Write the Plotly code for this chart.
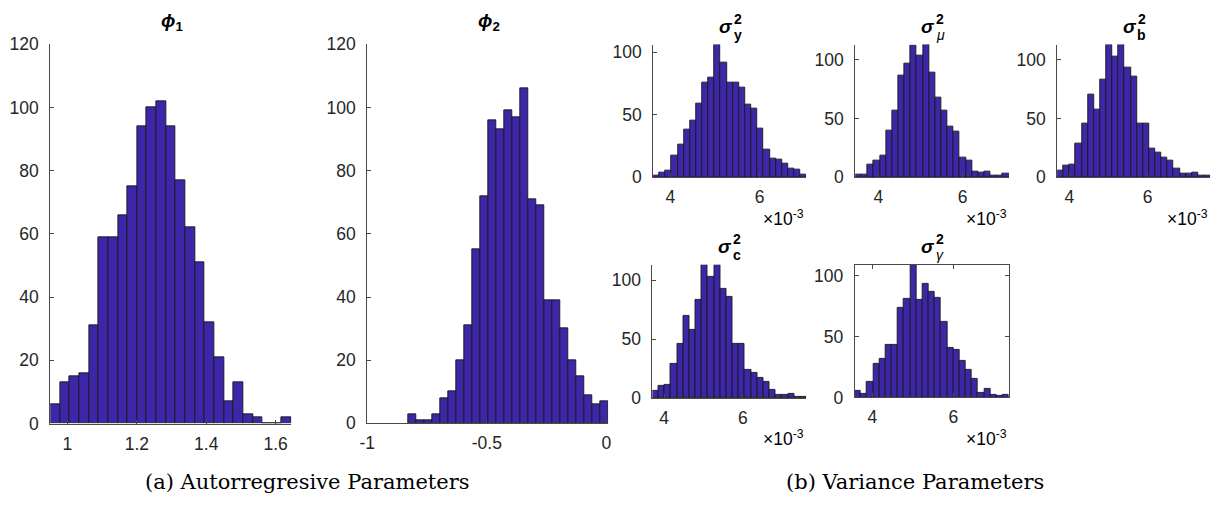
import numpy as np
import plotly.graph_objects as go

# ---- histogram data (counts per bin, first/last bin edge) ----
phi1_counts = [6, 13, 15, 16, 31, 59, 59, 66, 75, 94, 100, 102, 94, 77, 62,
               51, 32, 21, 7, 13, 3, 2, 0, 0, 2]
phi1_edges = (0.9506, 1.6457)

phi2_counts = [3, 1, 1, 3, 8, 10, 20, 31, 55, 72, 96, 93, 99, 97, 106,
               71, 69, 39, 39, 30, 20, 15, 9, 6, 7]
phi2_edges = (-0.829, 0.0077)

sig_y_counts = [1, 4, 5, 17, 26, 38, 45, 59, 76, 80, 106, 92, 76, 76, 72,
                58, 55, 39, 22, 15, 14, 11, 7, 6, 2]
sig_y_edges = (3.615e-3, 7.053e-3)

sig_mu_counts = [2, 2, 11, 14, 18, 40, 57, 87, 97, 112, 104, 113, 89, 68, 57,
                 43, 39, 17, 14, 5, 4, 5, 1, 1, 3]
sig_mu_edges = (3.45e-3, 7.10e-3)

sig_b_counts = [6, 10, 11, 29, 46, 70, 58, 83, 113, 103, 113, 93, 86, 46, 46,
                24, 21, 17, 14, 7, 3, 3, 4, 1, 1]
sig_b_edges = (3.69e-3, 7.60e-3)

sig_c_counts = [6, 10, 11, 29, 46, 70, 58, 83, 113, 103, 113, 93, 86, 46, 46,
                24, 21, 17, 14, 7, 3, 3, 4, 1, 1]
sig_c_edges = (3.705e-3, 7.62e-3)

sig_g_counts = [5, 3, 13, 28, 32, 43, 43, 74, 81, 109, 80, 93, 87, 82, 62,
                41, 39, 30, 23, 15, 4, 7, 2, 1, 2]
sig_g_edges = (3.56e-3, 7.37e-3)

phi_xticks = [[1, 1.2, 1.4, 1.6], [-1, -0.5, 0]]
phi_yticks = [0, 20, 40, 60, 80, 100, 120]
sig_xticks = [0.004, 0.006]
sig_xtick_text = ["4", "6"]
sig_yticks = [0, 50, 100]

# ---- page geometry (pixels) ----
W, H = 1225, 508
BAR_FILL = "#3e26a8"
BAR_EDGE = "#1a1a1a"
AXIS_COL = "#4a4a4a"
TEXT_COL = "#262626"
SANS = "Liberation Sans, Arial, sans-serif"
TICK_SIZE = 17.5

fig = go.Figure()


def px_x(p):
    return p / W


def px_y(p):
    return 1 - p / H


panels = []
panels.append(dict(counts=phi1_counts, edges=phi1_edges, xpx=(42.7, 286.0),
                   ypx=(430.5, 35.7), xr=phi1_edges, xt=phi_xticks[0],
                   xtt=None, yt=phi_yticks, ytop=120, box=False))
panels.append(dict(counts=phi2_counts, edges=phi2_edges, xpx=(362.5, 605.7),
                   ypx=(430.3, 35.7), xr=(-1, phi2_edges[1]), xt=phi_xticks[1],
                   xtt=["-1", "-0.5", "0"], yt=phi_yticks, ytop=120, box=False))
small = [
    (sig_y_counts, sig_y_edges, (651.0, 805.7), (174.0, 36.0), False),
    (sig_mu_counts, sig_mu_edges, (855.0, 1010.0), (174.0, 36.0), False),
    (sig_b_counts, sig_b_edges, (1058.7, 1213.3), (174.0, 36.0), False),
    (sig_c_counts, sig_c_edges, (650.3, 805.7), (404.0, 265.3), False),
    (sig_g_counts, sig_g_edges, (854.3, 1010.0), (403.3, 265.3), True),
]
for c, e, xp, yp, box in small:
    panels.append(dict(counts=c, edges=e, xpx=xp, ypx=yp, xr=e, xt=sig_xticks,
                       xtt=sig_xtick_text, yt=sig_yticks, ytop=max(c), box=box))

for i, p in enumerate(panels, start=1):
    n = len(p["counts"])
    edges = np.linspace(p["edges"][0], p["edges"][1], n + 1)
    centers = (edges[:-1] + edges[1:]) / 2
    width = edges[1] - edges[0]
    xa = "x" if i == 1 else f"x{i}"
    ya = "y" if i == 1 else f"y{i}"
    fig.add_trace(go.Bar(
        x=centers, y=p["counts"], width=width, xaxis=xa, yaxis=ya,
        marker=dict(color=BAR_FILL, line=dict(color=BAR_EDGE, width=0.9)),
        showlegend=False, hoverinfo="skip"))
    mirror = "ticks" if p["box"] else False
    xkey = "xaxis" if i == 1 else f"xaxis{i}"
    ykey = "yaxis" if i == 1 else f"yaxis{i}"
    xaxis = dict(domain=[px_x(p["xpx"][0]), px_x(p["xpx"][1])],
                 range=list(p["xr"]), anchor=ya, showgrid=False,
                 zeroline=False, showline=True, linecolor=AXIS_COL,
                 linewidth=1, ticks="inside", ticklen=4, tickcolor=AXIS_COL,
                 tickvals=p["xt"], mirror=mirror,
                 tickfont=dict(family=SANS, size=TICK_SIZE, color=TEXT_COL),
                 ticklabelstandoff=4)
    if p["xtt"] is not None:
        xaxis["ticktext"] = p["xtt"]
    yaxis = dict(domain=[px_y(p["ypx"][0]), px_y(p["ypx"][1])],
                 range=[0, p["ytop"]], anchor=xa, showgrid=False,
                 zeroline=False, showline=True, linecolor=AXIS_COL,
                 linewidth=1, ticks="inside", ticklen=4, tickcolor=AXIS_COL,
                 tickvals=p["yt"], mirror=mirror,
                 tickfont=dict(family=SANS, size=TICK_SIZE, color=TEXT_COL),
                 ticklabelstandoff=7)
    fig.update_layout({xkey: xaxis, ykey: yaxis})

annotations = []


def add_text(x, y, text, size, family=SANS, xanchor="center", yanchor="middle"):
    annotations.append(dict(x=px_x(x), y=px_y(y), xref="paper", yref="paper",
                            text=text, showarrow=False, xanchor=xanchor,
                            yanchor=yanchor,
                            font=dict(family=family, size=size, color="#000000")))


# phi titles
add_text(165, 13, "<b><i>ϕ</i><sub>1</sub></b>", 19)
add_text(485, 13, "<b><i>ϕ</i><sub>2</sub></b>", 19)

# sigma titles: base glyph, superscript 2 and subscript stacked
sigma_titles = [((651.0 + 805.7) / 2, 19, "y"), ((855 + 1010) / 2, 19, "μ"),
                ((1058.7 + 1213.3) / 2, 19, "b"), ((650.3 + 805.7) / 2, 248, "c"),
                ((854.3 + 1010) / 2, 248, "γ")]
for cx, cy, sub in sigma_titles:
    add_text(cx - 4, cy - 2, "<b><i>σ</i></b>", 19)
    add_text(cx + 8, cy - 10, "<b>2</b>", 14)
    sub_txt = f"<i>{sub}</i>" if sub in "μγ" else f"<b>{sub}</b>"
    add_text(cx + 8, cy + 7, sub_txt, 14)

# exponent labels under small panels
for xr, yc in [(805.7, 217), (1010, 217), (1213.3, 217), (805.7, 446), (1010, 446)]:
    add_text(xr, yc, "×10<sup>-3</sup>", 17.5, xanchor="right")

# sub-figure captions
SERIF = "DejaVu Serif, Liberation Serif, serif"
add_text(302, 491, "(a) Autorregresive Parameters", 21, family=SERIF)
add_text(915.5, 491, "(b) Variance Parameters", 21, family=SERIF)

fig.update_layout(
    width=W, height=H, margin=dict(l=0, r=0, t=0, b=0),
    paper_bgcolor="white", plot_bgcolor="white", bargap=0,
    annotations=annotations,
)

fig.write_html("out.html")
